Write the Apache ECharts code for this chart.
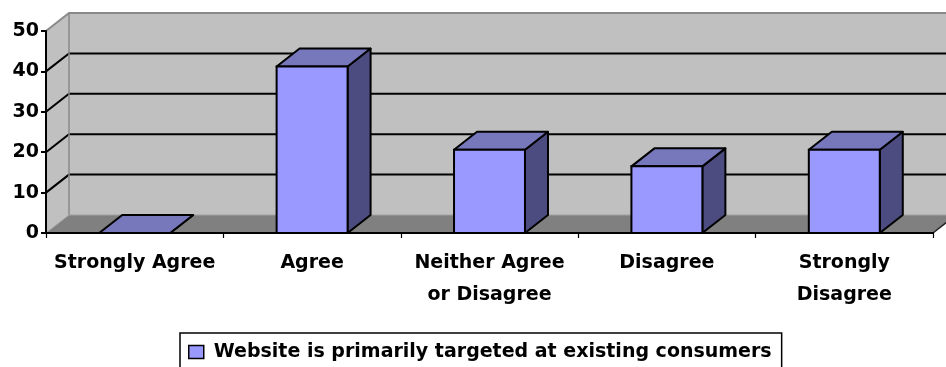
<!DOCTYPE html>
<html>
<head>
<meta charset="utf-8">
<script src="https://cdn.jsdelivr.net/npm/echarts@6/dist/echarts.min.js"></script>
<style>html,body{margin:0;padding:0;background:#fff;}#c{width:946px;height:367px;}</style>
</head>
<body>
<div id="c"></div>
<script>
const categories = ['Strongly Agree', 'Agree', 'Neither Agree\nor Disagree', 'Disagree', 'Strongly\nDisagree'];
const values = [0, 41.2, 20.6, 16.5, 20.6];
const yTicks = [0, 10, 20, 30, 40, 50];
const seriesName = 'Website is primarily targeted at existing consumers';

const DX = 23, DY = -18;           // oblique depth projection
const FONT = "'DejaVu Sans', sans-serif";
const WALL = '#C0C0C0', FLOOR = '#808080', EDGE = '#8A8A8A';

const chart = echarts.init(document.getElementById('c'), null, {renderer: 'canvas'});

function roomRender(params, api) {
  const band = api.size([1, 0])[0];
  const x0 = api.coord([0, 0])[0] - band / 2;
  const x1 = api.coord([categories.length - 1, 0])[0] + band / 2;
  const yv = v => api.coord([0, v])[1];
  const y0 = yv(yTicks[0]);
  const yTop = yv(yTicks[yTicks.length - 1]);
  const kids = [];
  kids.push({type: 'polygon', shape: {points: [[x0 + DX, yTop + DY], [x1 + DX + 40, yTop + DY], [x1 + DX + 40, y0 + DY], [x0 + DX, y0 + DY]]},
    style: {fill: WALL, stroke: null}});
  kids.push({type: 'polygon', shape: {points: [[x0, y0], [x0, yTop], [x0 + DX, yTop + DY], [x0 + DX, y0 + DY]]},
    style: {fill: WALL, stroke: null}});
  kids.push({type: 'polygon', shape: {points: [[x0, y0], [x1, y0], [x1 + DX, y0 + DY], [x0 + DX, y0 + DY]]},
    style: {fill: FLOOR, stroke: null}});
  yTicks.forEach((v, i) => {
    if (i === 0 || i === yTicks.length - 1) return;
    const y = yv(v);
    kids.push({type: 'polyline', shape: {points: [[x0, y], [x0 + DX, y + DY], [x1 + DX + 40, y + DY]]},
      style: {stroke: '#000', lineWidth: 2, fill: null}});
  });
  kids.push({type: 'polyline', shape: {points: [[x0, yTop], [x0 + DX, yTop + DY], [x1 + DX + 40, yTop + DY]]},
    style: {stroke: EDGE, lineWidth: 2, fill: null}});
  kids.push({type: 'line', shape: {x1: x0 + DX, y1: yTop + DY, x2: x0 + DX, y2: y0 + DY},
    style: {stroke: EDGE, lineWidth: 1.5}});
  kids.push({type: 'polyline', shape: {points: [[x0, y0], [x0 + DX, y0 + DY], [x1 + DX + 40, y0 + DY]]},
    style: {stroke: '#A0A0A0', lineWidth: 1, fill: null}});
  kids.push({type: 'line', shape: {x1: x1, y1: y0, x2: x1 + DX, y2: y0 + DY},
    style: {stroke: '#222', lineWidth: 1.5}});
  return {type: 'group', children: kids};
}

function barRender(params, api) {
  const idx = api.value(0);
  const base = api.coord([idx, 0]);
  const top = api.coord([idx, api.value(1)]);
  const band = api.size([1, 0])[0];
  const w = band * 0.4;
  const l = top[0] - w / 2, r = top[0] + w / 2, yb = base[1], yt = top[1];
  const lw = 2;
  return {type: 'group', children: [
    {type: 'polygon', shape: {points: [[r, yt], [r + DX, yt + DY], [r + DX, yb + DY], [r, yb]]},
      style: {fill: '#4C4C80', stroke: '#000', lineWidth: lw, lineJoin: 'round'}},
    {type: 'polygon', shape: {points: [[l, yt], [r, yt], [r + DX, yt + DY], [l + DX, yt + DY]]},
      style: {fill: '#7777BB', stroke: '#000', lineWidth: lw, lineJoin: 'round'}},
    {type: 'rect', shape: {x: l, y: yt, width: w, height: yb - yt},
      style: {fill: '#9999FF', stroke: '#000', lineWidth: lw}}
  ]};
}

chart.setOption({
  animation: false,
  backgroundColor: '#fff',
  grid: {left: 46, right: 13, top: 31, bottom: 134, containLabel: false},
  xAxis: {
    type: 'category', data: categories, z: 3,
    axisLine: {lineStyle: {color: '#000', width: 2}},
    axisTick: {show: true, length: 5, lineStyle: {color: '#000', width: 1.2}},
    axisLabel: {interval: 0, color: '#000', fontSize: 19, fontWeight: 'bold', fontFamily: FONT, margin: 14, lineHeight: 32}
  },
  yAxis: {
    type: 'value', min: 0, max: 50, interval: 10, z: 3,
    axisLine: {show: true, lineStyle: {color: '#000', width: 2}},
    axisTick: {show: true, length: 5, lineStyle: {color: '#000', width: 2}},
    splitLine: {show: false},
    axisLabel: {color: '#000', fontSize: 19, fontWeight: 'bold', fontFamily: FONT, margin: 7}
  },
  legend: {
    left: 180, top: 333,
    padding: [8, 10, 30, 8],
    borderColor: '#000', borderWidth: 1.5,
    itemWidth: 15, itemHeight: 13,
    itemStyle: {borderColor: '#000', borderWidth: 1.5},
    textStyle: {color: '#000', fontSize: 19, fontWeight: 'bold', fontFamily: FONT, lineHeight: 22, padding: [0, 0, 0, 5]},
    data: [{name: seriesName, icon: 'rect'}]
  },
  series: [
    {type: 'custom', name: 'room', z: 1, silent: true, renderItem: roomRender, data: [[0, 0]], clip: false},
    {type: 'custom', name: seriesName, z: 4, renderItem: barRender, clip: false,
      itemStyle: {color: '#9999FF'},
      encode: {x: 0, y: 1},
      data: values.map((v, i) => [i, v])}
  ]
});
</script>
</body>
</html>
